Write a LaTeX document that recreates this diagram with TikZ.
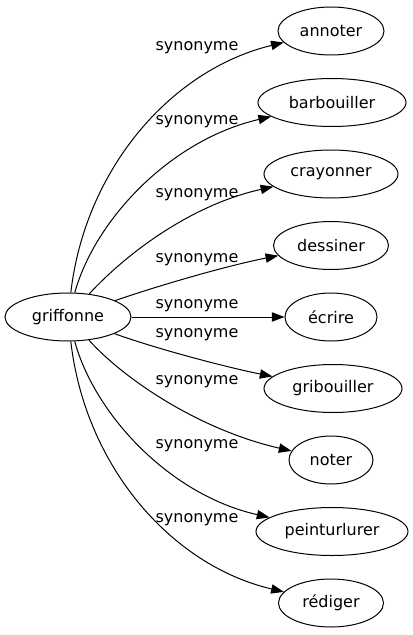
\documentclass[tikz,border=0pt]{standalone}
\usepackage{fontspec}
\setmainfont{DejaVu Sans}
\usetikzlibrary{arrows.meta,shapes.geometric}
\begin{document}
\begin{tikzpicture}[x=0.75pt,y=-0.75pt,
  word/.style={ellipse,draw,line width=0.75pt,inner sep=1pt,minimum height=36pt,font=\fontsize{12}{14}\selectfont},
  lab/.style={inner sep=0pt,font=\fontsize{12}{14}\selectfont},
  edge/.style={line width=0.75pt,-{Triangle[length=9.5pt,width=7pt]}}]
\useasboundingbox (0,0) rectangle (412,635);
\node[word,minimum width=94.5pt] (g) at (68,317) {griffonne};
\node[word,minimum width=79.5pt] (t1) at (331,31) {annoter};
\node[word,minimum width=111pt] (t2) at (332,102.5) {barbouiller};
\node[word,minimum width=100.5pt] (t3) at (331,174) {crayonner};
\node[word,minimum width=86.25pt] (t4) at (331,245.5) {dessiner};
\node[word,minimum width=69pt] (t5) at (331,317) {écrire};
\node[word,minimum width=103.5pt] (t6) at (333,388.5) {gribouiller};
\node[word,minimum width=63pt] (t7) at (331,460) {noter};
\node[word,minimum width=114pt] (t8) at (332,531.5) {peinturlurer};
\node[word,minimum width=78.75pt] (t9) at (331,603) {rédiger};
\node[lab] (l1) at (197,48) {synonyme};
\node[lab] (l2) at (197,122) {synonyme};
\node[lab] (l3) at (197,195) {synonyme};
\node[lab] (l4) at (197,260) {synonyme};
\node[lab] (l5) at (197,306) {synonyme};
\node[lab] (l6) at (197,335) {synonyme};
\node[lab] (l7) at (197,382) {synonyme};
\node[lab] (l8) at (197,446) {synonyme};
\node[lab] (l9) at (197,520) {synonyme};
\draw[edge] (g) .. controls (85,170) and (170,70) .. (t1);
\draw[edge] (g) .. controls (95,220) and (170,140) .. (t2);
\draw[edge] (g) .. controls (125,255) and (190,205) .. (t3);
\draw[edge] (g) .. controls (160,285) and (230,265) .. (t4);
\draw[edge] (g) -- (t5);
\draw[edge] (g) .. controls (160,350) and (230,368) .. (t6);
\draw[edge] (g) .. controls (125,380) and (200,430) .. (t7);
\draw[edge] (g) .. controls (95,415) and (170,495) .. (t8);
\draw[edge] (g) .. controls (85,465) and (170,565) .. (t9);
\end{tikzpicture}
\end{document}
